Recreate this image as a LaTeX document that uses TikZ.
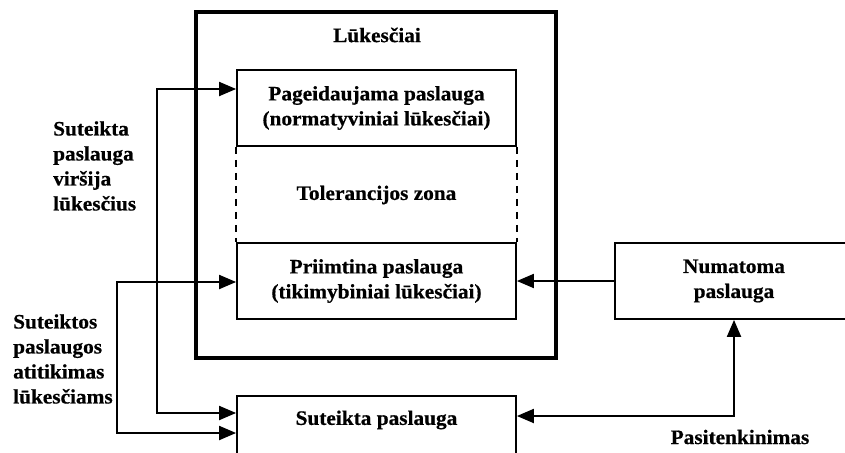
\documentclass[tikz,border=0pt]{standalone}
\usepackage{fontspec}
\setmainfont[FakeStretch=1.04,FakeBold=0.6]{Liberation Serif}
\usetikzlibrary{arrows.meta}
\newcommand{\lblfont}{\fontsize{20.5pt}{25pt}\selectfont\bfseries}
\tikzset{
  box/.style={draw, line width=1.8pt, minimum width=279pt, minimum height=76pt,
              inner sep=0pt, align=center, font=\lblfont},
  lbl/.style={align=center, font=\lblfont, inner sep=0pt},
  conn/.style={line width=2pt,
               {Triangle[length=17pt,width=14pt]}-{Triangle[length=17pt,width=14pt]}},
  oneway/.style={line width=2pt, -{Triangle[length=17pt,width=14pt]}},
}
\begin{document}
\begin{tikzpicture}[x=1pt,y=-1pt]
  \useasboundingbox (0,0) rectangle (845,452);
  \clip (0,0) rectangle (845,452);

  % outer frame of expectations
  \node[draw, line width=3.2pt, minimum width=360pt, minimum height=346pt, inner sep=0pt]
    (outer) at (376,185) {};
  \node[lbl] (title) at (377,35) {Lūkesčiai};

  % desired and adequate service with the tolerance zone between them
  \node[box] (pag) at (376.5,108) {Pageidaujama paslauga\\(normatyviniai lūkesčiai)};
  \node[box] (pri) at (376.5,281) {Priimtina paslauga\\(tikimybiniai lūkesčiai)};
  \node[lbl] (tol) at (376.5,195) {Tolerancijos zona};
  \draw[line width=1.6pt, dash pattern=on 7pt off 6pt] (pag.south west) -- (pri.north west);
  \draw[line width=1.6pt, dash pattern=on 7pt off 6pt] (pag.south east) -- (pri.north east);

  % delivered and predicted service
  \node[draw, line width=1.8pt, minimum width=279pt, minimum height=120pt, inner sep=0pt]
    (sut) at (376.5,456) {};
  \node[lbl] (sutl) at (376.5,420) {Suteikta paslauga};
  \node[box, minimum width=238pt] (num) at (734,281) {Numatoma\\paslauga};

  % side labels
  \node[lbl, align=left, anchor=west] (vir) at (53,166)
    {Suteikta\\paslauga\\viršija\\lūkesčius};
  \node[lbl, align=left, anchor=west] (ati) at (13,359)
    {Suteiktos\\paslaugos\\atitikimas\\lūkesčiams};
  \node[lbl] (pas) at (740,437) {Pasitenkinimas};

  % connectors
  \coordinate (k1) at (157,89);
  \coordinate (k1b) at (157,413);
  \coordinate (k2) at (117,282);
  \coordinate (k2b) at (117,433);
  \coordinate (k3) at (734,416);
  \draw[conn] (pag.west |- k1) -- (k1) -- (k1b) -- (sut.west |- k1b);
  \draw[conn] (pri.west |- k2) -- (k2) -- (k2b) -- (sut.west |- k2b);
  \draw[oneway] (num.west) -- (pri.east);
  \draw[conn] (sut.east |- k3) -| (num.south);
\end{tikzpicture}
\end{document}
